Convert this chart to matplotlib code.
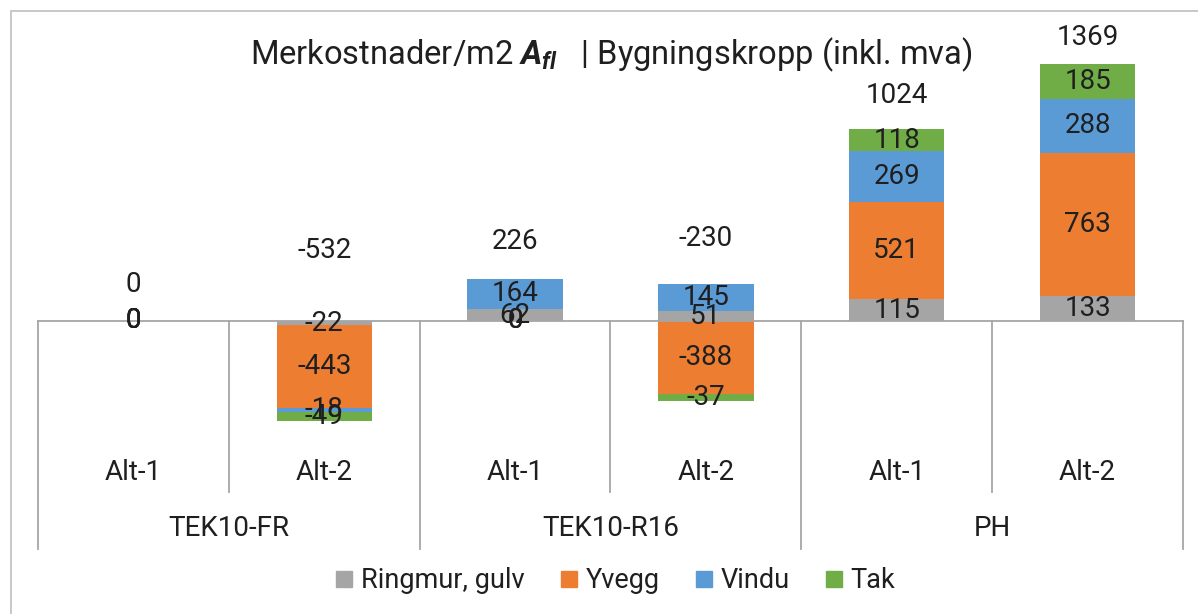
import matplotlib
matplotlib.use("Agg")
import matplotlib.pyplot as plt
import numpy as np
from matplotlib.lines import Line2D
from matplotlib.patches import Rectangle

# ---- data ----
groups = ["TEK10-FR", "TEK10-R16", "PH"]
alts = ["Alt-1", "Alt-2"]
series_names = ["Ringmur, gulv", "Yvegg", "Vindu", "Tak"]
ringmur = [0, -22, 62, 51, 115, 133]
yvegg = [0, -443, 0, -388, 521, 763]
vindu = [0, -18, 164, 145, 269, 288]
tak = [0, -49, 0, -37, 118, 185]
totals = [0, -532, 226, -230, 1024, 1369]

# ---- layout / style ----
colors = ["#A5A5A5", "#ED7D31", "#5B9BD5", "#70AD47"]
total_label_y = [192, 378, 426, 442, 1204, 1513]   # label positions (data units)
FONT = "Roboto"
TXT = "#1F1F1F"
FS = 20

plt.rcParams["font.family"] = [FONT, "DejaVu Sans"]
plt.rcParams["mathtext.fontset"] = "custom"
plt.rcParams["mathtext.rm"] = FONT
plt.rcParams["mathtext.it"] = FONT + ":italic:bold"
plt.rcParams["mathtext.bf"] = FONT + ":bold"

W, H = 1198, 614
fig = plt.figure(figsize=(W / 100, H / 100), dpi=100)
fig.patch.set_facecolor("white")

# outer frame
fig.patches.append(Rectangle((11 / W, -0.5), 2, 1.5 - 11 / H, transform=fig.transFigure,
                             fill=False, edgecolor="#BFBFBF", lw=1.2))

ax_top_px, ax_bot_px, zero_px, scale = 30, 430, 321, 0.1877
ax = fig.add_axes([38 / W, 1 - ax_bot_px / H, (1183 - 38) / W, (ax_bot_px - ax_top_px) / H])
ax.set_xlim(-0.5, 5.5)
ax.set_ylim(-(ax_bot_px - zero_px) / scale, (zero_px - ax_top_px) / scale)
ax.axis("off")

x = np.arange(len(totals))
data = [ringmur, yvegg, vindu, tak]
pos_base = np.zeros(len(x))
neg_base = np.zeros(len(x))
width = 0.5
for vals, c in zip(data, colors):
    vals = np.array(vals, dtype=float)
    base = np.where(vals >= 0, pos_base, neg_base)
    ax.bar(x, vals, width, bottom=base, color=c, edgecolor="none", zorder=2)
    for xi, v, b in zip(x, vals, base):
        yl = 0 if v == 0 else b + v / 2
        ax.text(xi, yl, f"{int(v)}", ha="center", va="center", fontsize=FS,
                color=TXT, zorder=4)
    pos_base = pos_base + np.where(vals > 0, vals, 0)
    neg_base = neg_base + np.where(vals < 0, vals, 0)

# total labels
for xi, t, yl in zip(x, totals, total_label_y):
    ax.text(xi, yl, f"{t}", ha="center", va="center", fontsize=FS, color=TXT)

# category axis line
ax.plot([-0.5, 5.5], [0, 0], color="#A6A6A6", lw=1.3, zorder=3, clip_on=False)

tr = ax.get_xaxis_transform()
axh = ax_bot_px - ax_top_px
def yfrac(py):
    return (ax_bot_px - py) / axh

# separators
for i in range(7):
    xb = i - 0.5
    major = (i % 2 == 0)
    yend = 549 if major else 492
    ax.plot([xb, xb], [yfrac(zero_px), yfrac(yend)], transform=tr, color="#A6A6A6",
            lw=1.3, clip_on=False)

# category labels
for i in range(len(x)):
    ax.text(i, yfrac(472), alts[i % 2], transform=tr, ha="center", va="center",
            fontsize=FS, color=TXT, clip_on=False)
for g, name in enumerate(groups):
    ax.text(2 * g + 0.5, yfrac(528), name, transform=tr, ha="center", va="center",
            fontsize=FS, color=TXT, clip_on=False)

# title
fig.text(611 / W, 1 - 55 / H,
         r"Merkostnader/m2 $\mathit{A_{fl}}$   | Bygningskropp (inkl. mva)",
         ha="center", va="center", fontsize=23.5, color=TXT)

# legend
handles = [Line2D([], [], marker="s", linestyle="none", markersize=11,
                  markerfacecolor=c, markeredgecolor=c) for c in colors]
fig.legend(handles, series_names, loc="center", bbox_to_anchor=(615 / W, 1 - 581 / H),
           ncol=4, frameon=False, fontsize=19.5, handlelength=0.7, handletextpad=0.25,
           columnspacing=1.3, labelcolor=TXT)

fig.savefig("out.png", dpi=100, facecolor="white")
